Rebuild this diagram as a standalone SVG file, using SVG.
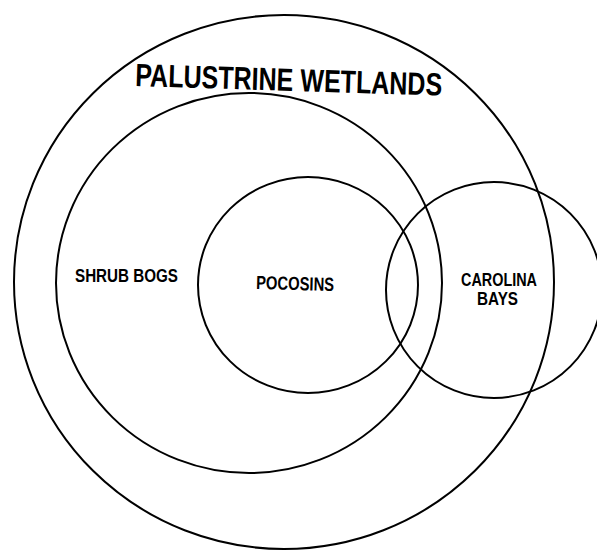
<svg xmlns="http://www.w3.org/2000/svg" width="597" height="550" viewBox="0 0 597 550">
<style>
.c{fill:none;stroke:#000;stroke-width:2}
.t{font-family:"Liberation Sans Narrow","Liberation Sans",Arial,sans-serif;font-weight:bold;fill:#000;text-anchor:start}
</style>
<rect width="597" height="550" fill="#fff"/>
<g id="palustrine-wetlands">
<ellipse class="c" cx="284" cy="282" rx="270" ry="267"/>
<text class="t" x="135" y="86" font-size="32" textLength="307" lengthAdjust="spacingAndGlyphs" transform="rotate(1.8 135 86)">PALUSTRINE WETLANDS</text>
</g>
<g id="shrub-bogs">
<ellipse class="c" cx="249" cy="283" rx="193" ry="190"/>
<text class="t" x="75" y="282" font-size="19" textLength="103" lengthAdjust="spacingAndGlyphs">SHRUB BOGS</text>
</g>
<g id="pocosins">
<ellipse class="c" cx="308" cy="285" rx="110" ry="108"/>
<text class="t" x="256" y="289" font-size="19" textLength="78" lengthAdjust="spacingAndGlyphs" transform="rotate(1.5 256 289)">POCOSINS</text>
</g>
<g id="carolina-bays">
<ellipse class="c" cx="494" cy="290" rx="108" ry="108"/>
<text class="t" x="461" y="286" font-size="19" textLength="76" lengthAdjust="spacingAndGlyphs">CAROLINA</text>
<text class="t" x="477" y="305" font-size="19" textLength="41" lengthAdjust="spacingAndGlyphs">BAYS</text>
</g>
<g id="connectors"></g>
</svg>
